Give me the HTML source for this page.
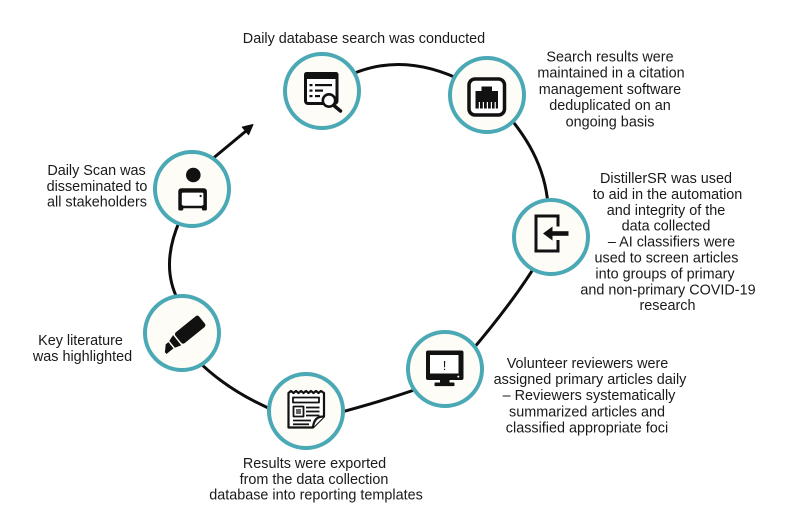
<!DOCTYPE html>
<html>
<head>
<meta charset="utf-8">
<style>
  html, body { margin: 0; padding: 0; background: #ffffff; }
  svg { display: block; }
  text { font-family: "Liberation Sans", "DejaVu Sans", sans-serif; font-size: 14.4px; fill: #1a1a1a; text-anchor: middle; }
</style>
</head>
<body>
<svg width="792" height="527" viewBox="0 0 792 527" xmlns="http://www.w3.org/2000/svg">
  <rect width="792" height="527" fill="#ffffff"/>

  <!-- connectors -->
  <g fill="none" stroke="#0d0d0d" stroke-width="3" stroke-linecap="round">
    <path d="M 340 80 Q 398 48 465 82"/>
    <path d="M 505 112 C 525 135 545 165 548 205"/>
    <path d="M 540 258 Q 515 300 468 355"/>
    <path d="M 420 388 Q 380 402 330 415"/>
    <path d="M 195 358 Q 228 392 280 413"/>
    <path d="M 180 220 Q 160 265 178 300"/>
    <path d="M 205 165 L 246 131"/>
  </g>
  <polygon points="253,124.5 248.6,134.7 242.2,127.1" fill="#0d0d0d" stroke="#0d0d0d" stroke-width="1" stroke-linejoin="round"/>

  <!-- node circles -->
  <g fill="#fdfcf6" stroke="#4ba8b5" stroke-width="4">
    <circle cx="322" cy="91" r="37"/>
    <circle cx="487" cy="95" r="37"/>
    <circle cx="551" cy="237" r="37"/>
    <circle cx="445" cy="369" r="37"/>
    <circle cx="306" cy="411" r="37"/>
    <circle cx="182" cy="333" r="37"/>
    <circle cx="192" cy="189" r="37"/>
  </g>

  <!-- Icon 1: database search window -->
  <g>
    <rect x="305.5" y="73.5" width="31.5" height="30" rx="2.5" fill="#ffffff" stroke="#111" stroke-width="3"/>
    <rect x="304" y="72" width="34.5" height="7" rx="2.5" fill="#111"/>
    <rect x="309.5" y="84" width="3" height="2.2" fill="#111"/>
    <rect x="309.5" y="89.5" width="3" height="2.2" fill="#111"/>
    <rect x="309.5" y="95" width="3" height="2.2" fill="#111"/>
    <rect x="315" y="84" width="17" height="2.2" fill="#111"/>
    <rect x="315" y="89.5" width="8" height="2.2" fill="#111"/>
    <rect x="315" y="95" width="5" height="2.2" fill="#111"/>
    <line x1="334.5" y1="106" x2="340.5" y2="111" stroke="#111" stroke-width="3.5" stroke-linecap="round"/>
    <circle cx="329" cy="100.5" r="6.2" fill="#ffffff" stroke="#111" stroke-width="2.6"/>
  </g>

  <!-- Icon 2: port in rounded square -->
  <g>
    <rect x="469" y="79" width="35.5" height="36" rx="6" fill="#ffffff" stroke="#111" stroke-width="3.5"/>
    <path d="M 475.5 91 L 481.5 91 L 481.5 86.5 L 492 86.5 L 492 91 L 498 91 L 498 108.5 L 475.5 108.5 Z" fill="#111"/>
    <g fill="#ffffff">
      <rect x="478.8" y="102" width="1.2" height="6.5"/>
      <rect x="482.8" y="102" width="1.2" height="6.5"/>
      <rect x="486.8" y="102" width="1.2" height="6.5"/>
      <rect x="490.8" y="102" width="1.2" height="6.5"/>
      <rect x="494.6" y="102" width="1.2" height="6.5"/>
    </g>
  </g>

  <!-- Icon 3: sign-in bracket with arrow -->
  <g fill="none" stroke="#111" stroke-width="3">
    <path d="M 558 226.5 L 558 216 L 536 216 L 536 251 L 558 251 L 558 240"/>
  </g>
  <rect x="550" y="231.2" width="18.5" height="4.6" fill="#111"/>
  <polygon points="543,233.5 552.5,226.5 552.5,240.5" fill="#111"/>

  <!-- Icon 4: monitor -->
  <g>
    <rect x="426" y="350.5" width="37.5" height="29.5" rx="2" fill="#111"/>
    <rect x="430" y="355" width="28.5" height="18.5" fill="#ffffff"/>
    <circle cx="458.3" cy="376.6" r="1" fill="#ffffff"/>
    <rect x="440" y="379.5" width="9.5" height="4" fill="#111"/>
    <rect x="434.5" y="382.5" width="20" height="3.6" rx="1" fill="#111"/>
    <text x="444.6" y="370" style="font-size:13px;fill:#111;">!</text>
  </g>

  <!-- Icon 5: newspaper/report -->
  <g stroke="#111" fill="none" stroke-width="2.2" stroke-linejoin="round">
    <path d="M 288.5 393 L 291 391 L 293.5 393 L 296 391 L 298.5 393 L 301 391 L 303.5 393 L 306 391 L 308.5 393 L 311 391 L 313.5 393 L 316 391 L 318.5 393 L 321 391 L 324 393 L 324 416.5 L 313 427.5 L 288.5 427.5 Z" fill="#ffffff"/>
    <path d="M 324 416.5 Q 314 416 313 427.5" fill="#ffffff"/>
    <rect x="293" y="397.5" width="26" height="5" stroke-width="1.8"/>
    <rect x="293.5" y="406.5" width="10" height="10" stroke-width="1.8"/>
    <line x1="306" y1="407.5" x2="319.5" y2="407.5" stroke-width="1.8"/>
    <line x1="306" y1="411.5" x2="319.5" y2="411.5" stroke-width="1.8"/>
    <line x1="306" y1="415.5" x2="319.5" y2="415.5" stroke-width="1.8"/>
    <line x1="293" y1="420.5" x2="311" y2="420.5" stroke-width="1.8"/>
    <line x1="293" y1="424.3" x2="309" y2="424.3" stroke-width="1.8"/>
  </g>
  <rect x="296" y="409" width="5" height="5" fill="#666"/>

  <!-- Icon 6: highlighter -->
  <g transform="translate(183,335.5) rotate(-39)">
    <rect x="-6" y="-7" width="30.5" height="14" rx="2.5" fill="#111"/>
    <polygon points="-7.5,-6.5 -7.5,6.5 -14,4.5 -14,-4.5" fill="#111"/>
    <polygon points="-15.5,-4 -15.5,4 -24.5,4 -24.5,1.5 -19,-4" fill="#111"/>
  </g>

  <!-- Icon 7: person with laptop -->
  <g>
    <circle cx="193.3" cy="175" r="7.3" fill="#111"/>
    <rect x="178.3" y="188.3" width="28.6" height="20" rx="3" fill="#111"/>
    <rect x="181.8" y="192.6" width="21.6" height="13.2" rx="1.2" fill="#ffffff"/>
    <rect x="178.3" y="205" width="5" height="5.5" rx="1.5" fill="#111"/>
    <rect x="201.9" y="205" width="5" height="5.5" rx="1.5" fill="#111"/>
    <circle cx="200.6" cy="196" r="1.1" fill="#111"/>
  </g>

  <!-- labels -->
  <text x="364" y="43">Daily database search was conducted</text>

  <text x="610" y="61.5">Search results were</text>
  <text x="611" y="77.7">maintained in a citation</text>
  <text x="610" y="93.9">management software</text>
  <text x="610" y="110.1">deduplicated on an</text>
  <text x="610" y="126.3">ongoing basis</text>

  <text x="666" y="183">DistillerSR was used</text>
  <text x="667.5" y="198.9">to aid in the automation</text>
  <text x="666" y="214.8">and integrity of the</text>
  <text x="666" y="230.7">data collected</text>
  <text x="671.5" y="246.6">– AI classifiers were</text>
  <text x="666.5" y="262.5">used to screen articles</text>
  <text x="665" y="278.4">into groups of primary</text>
  <text x="668" y="294.3">and non-primary COVID-19</text>
  <text x="667.5" y="310.2">research</text>

  <text x="587.5" y="368">Volunteer reviewers were</text>
  <text x="590" y="384.1">assigned primary articles daily</text>
  <text x="589" y="400.2">– Reviewers systematically</text>
  <text x="587" y="416.3">summarized articles and</text>
  <text x="587" y="432.4">classified appropriate foci</text>

  <text x="314.5" y="468">Results were exported</text>
  <text x="314" y="484">from the data collection</text>
  <text x="316" y="499.5">database into reporting templates</text>

  <text x="80.5" y="345">Key literature</text>
  <text x="82.5" y="361">was highlighted</text>

  <text x="96.5" y="175">Daily Scan was</text>
  <text x="97" y="191">disseminated to</text>
  <text x="97" y="206.5">all stakeholders</text>
</svg>
</body>
</html>
